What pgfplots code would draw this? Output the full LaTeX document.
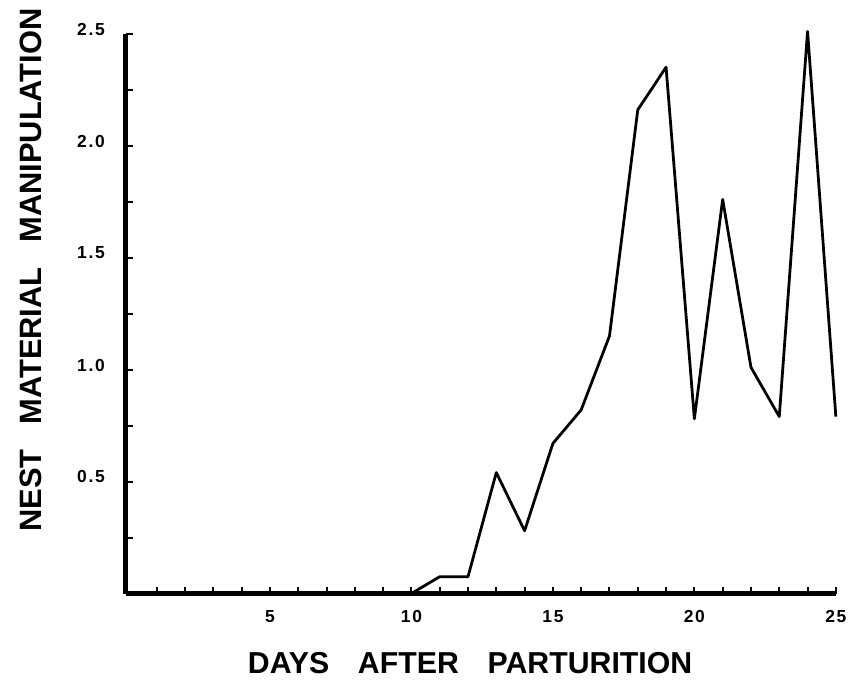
\documentclass[border=0pt]{standalone}
\usepackage{fontspec}
\setmainfont{Liberation Sans}
\newfontfamily\tickfont[LetterSpace=10]{Liberation Sans}
\usepackage{pgfplots}
\pgfplotsset{compat=1.18}
\begin{document}
\begin{tikzpicture}
\begin{axis}[name=ax, scale only axis, width=359pt, height=283pt,
  xmin=-0.1, xmax=25, ymin=0, ymax=2.5, clip=false,
  axis x line=bottom, axis y line=left,
  axis line style={line width=2.5pt, -},
  xtick={5,10,15,20,25}, xticklabels={5,10,15,20,25},
  minor xtick={1,2,3,4,6,7,8,9,11,12,13,14,16,17,18,19,21,22,23,24},
  ytick={0.5,1,1.5,2,2.5}, yticklabels={0.5,1.0,1.5,2.0,2.5},
  minor ytick={0.25,0.75,1.25,1.75,2.25},
  tick align=inside, major tick length=3.5pt, minor tick length=3.5pt,
  every tick/.style={black, line width=1pt},
  xticklabel style={font=\tickfont\bfseries\fontsize{8.8}{10}\selectfont, yshift=-5pt},
  yticklabel style={font=\tickfont\bfseries\fontsize{8.8}{10}\selectfont, anchor=east, xshift=-7pt, yshift=2.3pt},
  xlabel={DAYS\hspace{0.95em}AFTER\hspace{0.95em}PARTURITION},
  ylabel={NEST\hspace{0.8em}MATERIAL\hspace{0.8em}MANIPULATION},
  xlabel style={font=\bfseries\fontsize{15.3}{18}\selectfont, at={(axis description cs:0.485,-0.125)}, anchor=center},
  ylabel style={font=\bfseries\fontsize{15.6}{18}\selectfont, at={(axis description cs:-0.134,0.578)}, anchor=center},
]
\addplot[black, line width=1.4pt, line join=round] coordinates {
  (0,0) (1,0) (2,0) (3,0) (4,0) (5,0) (6,0) (7,0) (8,0) (9,0) (10,0)
  (11,0.075) (12,0.075) (13,0.54) (14,0.28) (15,0.67) (16,0.82) (17,1.15)
  (18,2.16) (19,2.35) (20,0.78) (21,1.76) (22,1.01) (23,0.79) (24,2.51) (25,0.79)
};
\end{axis}
\path (ax.south west) ++(-63.5pt,-42.5pt) rectangle ++(426.5pt,342.5pt);
\end{tikzpicture}
\end{document}
